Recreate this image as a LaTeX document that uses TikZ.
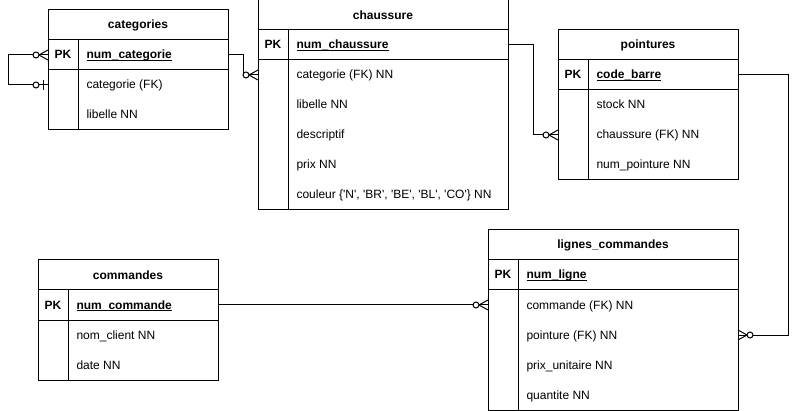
\documentclass[tikz,border=0pt]{standalone}
\usepackage{fontspec}
\setmainfont{Liberation Sans}
\usetikzlibrary{positioning,arrows.meta}
\newcommand{\apos}{\textquotesingle}
\newsavebox{\cleboite}
\newcommand{\souligne}[1]{\sbox{\cleboite}{#1}\rlap{\rule[-2.2pt]{\wd\cleboite}{0.8pt}}\usebox{\cleboite}}

% zero or many
\pgfdeclarearrow{
  name = zmany,
  parameters = {},
  setup code = {
    \pgfarrowssettipend{0pt}
    \pgfarrowssetlineend{0pt}
    \pgfarrowssetbackend{-15pt}
    \pgfarrowshullpoint{0pt}{5pt}
    \pgfarrowshullpoint{0pt}{-5pt}
    \pgfarrowshullpoint{-15pt}{0pt}
  },
  drawing code = {
    \pgfpathmoveto{\pgfqpoint{0pt}{5pt}}
    \pgfpathlineto{\pgfqpoint{-9pt}{0pt}}
    \pgfpathlineto{\pgfqpoint{0pt}{-5pt}}
    \pgfusepathqstroke
    \pgfpathcircle{\pgfqpoint{-12pt}{0pt}}{3pt}
    \pgfsetfillcolor{white}
    \pgfusepathqfillstroke
  }
}
% zero or one
\pgfdeclarearrow{
  name = zone,
  parameters = {},
  setup code = {
    \pgfarrowssettipend{0pt}
    \pgfarrowssetlineend{0pt}
    \pgfarrowssetbackend{-15pt}
    \pgfarrowshullpoint{-5pt}{5pt}
    \pgfarrowshullpoint{-5pt}{-5pt}
    \pgfarrowshullpoint{-15pt}{0pt}
  },
  drawing code = {
    \pgfpathmoveto{\pgfqpoint{-5pt}{5pt}}
    \pgfpathlineto{\pgfqpoint{-5pt}{-5pt}}
    \pgfusepathqstroke
    \pgfpathcircle{\pgfqpoint{-12pt}{0pt}}{3pt}
    \pgfsetfillcolor{white}
    \pgfusepathqfillstroke
  }
}

\begin{document}
\fontsize{12}{14}\selectfont
\begin{tikzpicture}[
  x=1pt, y=-1pt,
  line width=1pt,
  entete/.style={draw,outer sep=0pt,inner sep=0pt,minimum height=30,font=\bfseries},
  bloc/.style={draw,outer sep=0pt,inner sep=0pt,minimum height=30},
  champ/.style={anchor=west,inner sep=0pt,text height=10pt,text depth=2pt},
  cle/.style={font=\bfseries,inner sep=0pt,text height=10pt,text depth=2pt}
]
\useasboundingbox (0,0) rectangle (797,411);

% categories
\node[entete,minimum width=180] (cat) at (138,25) {categories};
\node[bloc,minimum width=180,below=0pt of cat] (catpk) {};
\node[bloc,minimum width=180,minimum height=60,below=0pt of catpk] (catcorps) {};
\draw ([xshift=30]catpk.north west) -- ([xshift=30]catcorps.south west);
\node[cle] (catcle) at ([xshift=15]catpk.west) {PK};
\node[champ,font=\bfseries] (catnum) at ([xshift=38]catpk.west) {\souligne{num\_categorie}};
\foreach \nom [count=\i] in {categorie (FK), libelle NN}
  \node[champ] (cat\i) at ([xshift=38,yshift={15-30*\i}]catcorps.north west) {\nom};

% chaussure
\node[entete,minimum width=250] (chaus) at (383,15) {chaussure};
\node[bloc,minimum width=250,below=0pt of chaus] (chauspk) {};
\node[bloc,minimum width=250,minimum height=150,below=0pt of chauspk] (chauscorps) {};
\draw ([xshift=30]chauspk.north west) -- ([xshift=30]chauscorps.south west);
\node[cle] (chauscle) at ([xshift=15]chauspk.west) {PK};
\node[champ,font=\bfseries] (chausnum) at ([xshift=38]chauspk.west) {\souligne{num\_chaussure}};
\foreach \nom [count=\i] in {categorie (FK) NN, libelle NN, descriptif, prix NN,
    {couleur \{\apos N\apos, \apos BR\apos, \apos BE\apos, \apos BL\apos, \apos CO\apos\} NN}}
  \node[champ] (chaus\i) at ([xshift=38,yshift={15-30*\i}]chauscorps.north west) {\nom};

% pointures
\node[entete,minimum width=180] (poin) at (648,45) {pointures};
\node[bloc,minimum width=180,below=0pt of poin] (poinpk) {};
\node[bloc,minimum width=180,minimum height=90,below=0pt of poinpk] (poincorps) {};
\draw ([xshift=30]poinpk.north west) -- ([xshift=30]poincorps.south west);
\node[cle] (poincle) at ([xshift=15]poinpk.west) {PK};
\node[champ,font=\bfseries] (poinnum) at ([xshift=38]poinpk.west) {\souligne{code\_barre}};
\foreach \nom [count=\i] in {stock NN, chaussure (FK) NN, num\_pointure NN}
  \node[champ] (poin\i) at ([xshift=38,yshift={15-30*\i}]poincorps.north west) {\nom};

% commandes
\node[entete,minimum width=180] (com) at (128,275) {commandes};
\node[bloc,minimum width=180,below=0pt of com] (compk) {};
\node[bloc,minimum width=180,minimum height=60,below=0pt of compk] (comcorps) {};
\draw ([xshift=30]compk.north west) -- ([xshift=30]comcorps.south west);
\node[cle] (comcle) at ([xshift=15]compk.west) {PK};
\node[champ,font=\bfseries] (comnum) at ([xshift=38]compk.west) {\souligne{num\_commande}};
\foreach \nom [count=\i] in {nom\_client NN, date NN}
  \node[champ] (com\i) at ([xshift=38,yshift={15-30*\i}]comcorps.north west) {\nom};

% lignes_commandes
\node[entete,minimum width=250] (lig) at (613,245) {lignes\_commandes};
\node[bloc,minimum width=250,below=0pt of lig] (ligpk) {};
\node[bloc,minimum width=250,minimum height=120,below=0pt of ligpk] (ligcorps) {};
\draw ([xshift=30]ligpk.north west) -- ([xshift=30]ligcorps.south west);
\node[cle] (ligcle) at ([xshift=15]ligpk.west) {PK};
\node[champ,font=\bfseries] (lignum) at ([xshift=38]ligpk.west) {\souligne{num\_ligne}};
\foreach \nom [count=\i] in {commande (FK) NN, pointure (FK) NN, prix\_unitaire NN, quantite NN}
  \node[champ] (lig\i) at ([xshift=38,yshift={15-30*\i}]ligcorps.north west) {\nom};

% liens
\draw[-zmany] (catpk.east) -- ++(15,0) |- (chaus1 -| chaus.west);
\draw[zmany-zone] (catpk.west) -- ++(-40,0) |- (cat1 -| cat.west);
\draw[-zmany] (chauspk.east) -- ++(25,0) |- (poin2 -| poin.west);
\draw[-zmany] (poinpk.east) -- ++(50,0) |- (lig2 -| lig.east);
\draw[-zmany] (compk.east) -- (lig1 -| lig.west);
\end{tikzpicture}
\end{document}
